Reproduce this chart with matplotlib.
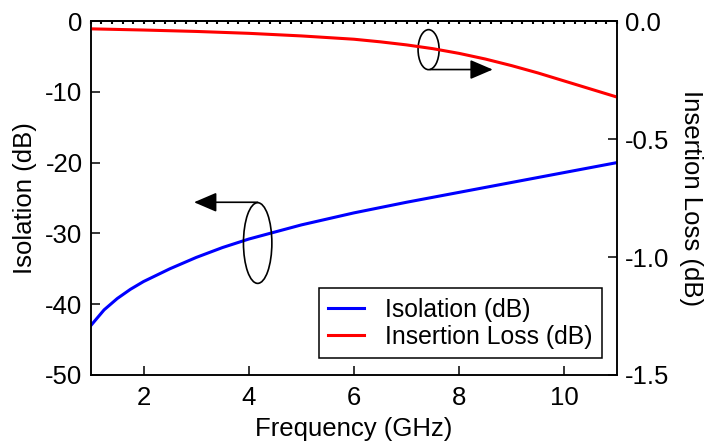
import matplotlib
matplotlib.use("Agg")
import matplotlib.pyplot as plt
from matplotlib.patches import Ellipse
from matplotlib.ticker import MultipleLocator
import numpy as np

plt.rcParams["font.family"] = ["Liberation Sans", "DejaVu Sans"]
plt.rcParams["font.size"] = 18.5

# ── Data ─────────────────────────────────────────────────────────────────────
freq_iso = [1, 1.25, 1.5, 1.75, 2, 2.5, 3, 3.5, 4, 5, 6, 7, 8, 9, 10, 11]
isolation = [-43.0, -40.8, -39.2, -37.9, -36.8, -35.0, -33.4, -32.0, -30.8,
             -28.8, -27.1, -25.6, -24.2, -22.8, -21.4, -20.0]

freq_il = [1, 2, 3, 4, 5, 6, 6.5, 7, 7.5, 8, 8.5, 9, 9.5, 10, 10.5, 11]
insertion_loss = [-0.033, -0.038, -0.044, -0.052, -0.063, -0.077, -0.088,
                  -0.101, -0.117, -0.137, -0.161, -0.189, -0.220, -0.254,
                  -0.288, -0.322]

x_ticks = [2, 4, 6, 8, 10]
iso_ticks = [0, -10, -20, -30, -40, -50]
il_ticks = [0.0, -0.5, -1.0, -1.5]

fig = plt.figure(figsize=(7.05, 4.48), dpi=100)
ax = fig.add_axes([0.129, 0.163, 0.746, 0.790])
ax2 = ax.twinx()

l1, = ax.plot(freq_iso, isolation, color="#0000ff", lw=2.2,
              label="Isolation (dB)")
l2, = ax2.plot(freq_il, insertion_loss, color="#ff0000", lw=2.2,
               label="Insertion Loss (dB)")

ax.set_xlim(1, 11)
ax.set_ylim(-50, 0)
ax2.set_ylim(-1.5, 0)
ax.set_xticks(x_ticks)
ax.set_yticks(iso_ticks)
ax2.set_yticks(il_ticks)
ax2.set_yticklabels([f"{v:.1f}" for v in il_ticks])
ax.set_yticklabels([f"{v:d}" for v in iso_ticks])

for a in (ax, ax2):
    for s in a.spines.values():
        s.set_linewidth(1.1)
ax.tick_params(axis="y", direction="in", length=6.5, width=1.1, pad=6)
ax.tick_params(axis="x", direction="in", length=6.5, width=1.1, pad=8)
ax2.tick_params(axis="y", direction="in", length=6.5, width=1.1, pad=6)

# dotted minor ticks along the top edge
top = ax.secondary_xaxis("top")
top.xaxis.set_major_locator(MultipleLocator(0.2))
top.tick_params(direction="in", length=2.5, width=1.5, labeltop=False)
top.spines["top"].set_linewidth(1.1)

ax.set_xlabel("Frequency (GHz)", labelpad=5)
ax.set_ylabel("Isolation (dB)", labelpad=6)
ax2.set_ylabel("Insertion Loss (dB)", rotation=270, labelpad=24)

# ── Curve markers: ellipse + arrow pointing to the matching axis ─────────────
arrow = dict(arrowstyle="-|>,head_length=1.4,head_width=0.6",
             mutation_scale=10, color="black", lw=1.2, shrinkA=0, shrinkB=0)

ax.add_patch(Ellipse((4.17, -31.36), 0.54, 11.4, fill=False,
                     edgecolor="black", lw=1.2, zorder=5))
ax.annotate("", xy=(2.96, -25.6), xytext=(4.17, -25.6),
            arrowprops=arrow, zorder=5)

ax.add_patch(Ellipse((7.42, -4.04), 0.40, 5.65, fill=False,
                     edgecolor="black", lw=1.2, zorder=5))
ax.annotate("", xy=(8.64, -6.85), xytext=(7.45, -6.85),
            arrowprops=arrow, zorder=5)

leg = ax2.legend(handles=[l1, l2], loc="lower right",
                 bbox_to_anchor=(0.9715, 0.048), fancybox=False,
                 edgecolor="black", framealpha=1, fontsize=17.8,
                 handlelength=1.44, handletextpad=0.86, labelspacing=0.12,
                 borderpad=0.38, borderaxespad=0)
leg.get_frame().set_linewidth(1.1)

fig.savefig("out.png", dpi=100)
